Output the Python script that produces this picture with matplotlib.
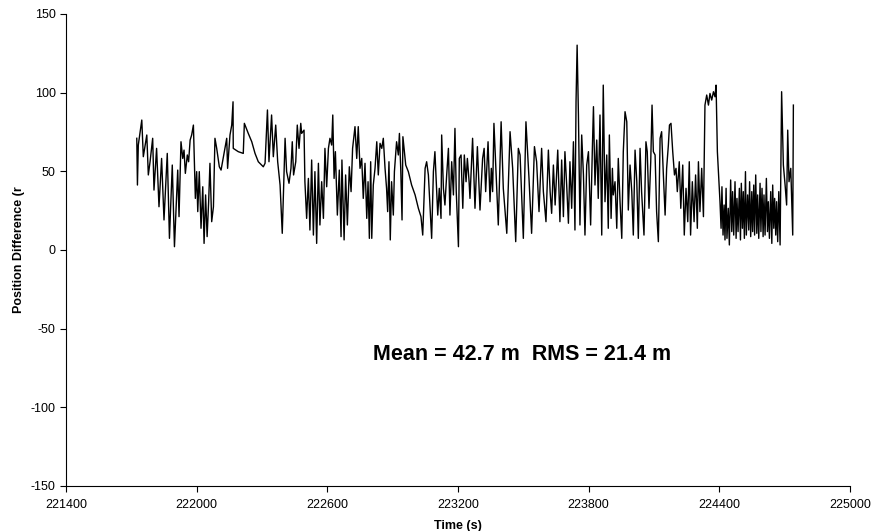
import matplotlib
matplotlib.use("Agg")
import matplotlib.pyplot as plt

plt.rcParams['font.family'] = ['Liberation Sans', 'DejaVu Sans']
plt.rcParams['axes.unicode_minus'] = False

# time (s) and position difference (m)
time_s = [
    221725, 221728, 221732, 221748, 221755, 221771, 221778, 221786, 221798, 221804,
    221816, 221827, 221839, 221850, 221865, 221875, 221888, 221898, 221913, 221919,
    221928, 221936, 221942, 221948, 221957, 221963, 221970, 221977, 221985, 221994,
    222000, 222005, 222012, 222020, 222028, 222034, 222041, 222048, 222055, 222061,
    222069, 222077, 222084, 222092, 222104,
    222112, 222127, 222138, 222142, 222153, 222161, 222167, 222168, 222191, 222214,
    222219, 222237, 222253, 222268, 222283, 222306, 222314, 222325, 222332, 222344,
    222352, 222363, 222372, 222383, 222393, 222406, 222413, 222424, 222433, 222439,
    222445, 222455, 222462, 222470, 222478,
    222482, 222493, 222497, 222505, 222513, 222520, 222528, 222536, 222543, 222551,
    222559, 222566, 222574, 222582, 222589, 222597, 222605, 222612, 222620, 222625,
    222631, 222637, 222646, 222655, 222663, 222667, 222677, 222684, 222692, 222701,
    222709, 222716, 222727, 222735, 222742, 222750, 222758, 222765, 222773, 222781,
    222787, 222793, 222799, 222804, 222811, 222819, 222827, 222834, 222842, 222850,
    222857, 222865,
    222872, 222877, 222883, 222889, 222895, 222903, 222908, 222918, 222926, 222931,
    222937, 222943, 222947, 222960, 222972, 222987, 223003, 223018, 223030, 223038,
    223049, 223056, 223064, 223071, 223079, 223087, 223094, 223102, 223107, 223114,
    223122, 223125, 223133, 223140, 223148, 223156, 223163, 223171, 223179, 223186,
    223192, 223202, 223206, 223214, 223222, 223229, 223237, 223243, 223251,
    223255, 223267, 223278, 223289, 223301, 223313, 223320, 223327, 223338, 223347,
    223353, 223359, 223365, 223375, 223385, 223398, 223408, 223424, 223439, 223451,
    223465, 223477, 223485, 223500, 223512, 223526, 223538, 223551, 223561, 223572,
    223584, 223592, 223604, 223615, 223623, 223630, 223638,
    223646, 223658, 223668, 223676, 223684, 223691, 223699, 223707, 223714, 223722,
    223730, 223737, 223742, 223747, 223753, 223760, 223768, 223776, 223783, 223791,
    223799, 223809, 223817, 223822, 223829, 223837, 223844, 223852, 223860, 223867,
    223875, 223883, 223890, 223895, 223903, 223909, 223913, 223921, 223929, 223936,
    223944, 223952, 223959, 223967, 223975, 223982, 223990, 223998, 224005, 224013,
    224021, 224028,
    224036, 224043, 224054, 224063, 224069, 224077, 224085, 224091, 224097, 224105,
    224112, 224120, 224128, 224135, 224143, 224151, 224158, 224166, 224171, 224178,
    224186, 224194, 224201, 224207, 224216, 224223, 224232, 224239, 224247, 224255,
    224262, 224268, 224276, 224284, 224291, 224299, 224304, 224311, 224319, 224327,
    224334, 224342, 224350, 224357, 224365, 224373, 224380, 224385, 224391, 224399,
    224403, 224408, 224412, 224417, 224422, 224426, 224431, 224435, 224441, 224446,
    224452, 224457, 224461, 224466, 224472, 224477, 224481, 224486, 224492, 224497,
    224501, 224506, 224510, 224515, 224520, 224524, 224530, 224535, 224539, 224544,
    224549, 224553, 224558, 224562, 224567, 224572, 224576, 224581, 224587, 224591,
    224596, 224601, 224605, 224610, 224616, 224621, 224625, 224630, 224636, 224641,
    224645, 224650, 224654, 224659, 224663, 224668, 224673, 224679, 224686, 224694,
    224702, 224709, 224714, 224720, 224728, 224737, 224740,
]

pos_diff_m = [
    71.0, 41.3, 66.7, 82.6, 59.3, 73.1, 47.7, 56.1, 71.0, 38.1,
    64.6, 27.5, 58.2, 19.1, 61.4, 7.4, 54.0, 2.1, 50.8, 21.2,
    68.8, 58.2, 63.5, 48.7, 60.4, 56.1, 69.9, 73.1, 79.4, 32.8,
    49.8, 24.4, 49.8, 13.8, 40.2, 4.2, 35.0, 8.5, 30.7, 55.1,
    18.0, 27.5, 71.0, 64.6, 52.9,
    50.8, 62.5, 71.0, 51.9, 73.1, 79.4, 94.2, 64.6, 62.5, 61.4,
    80.5, 74.1, 68.8, 61.4, 56.1, 52.9, 55.1, 89.0, 56.1, 85.8,
    59.3, 79.4, 56.1, 41.3, 10.6, 71.0, 49.8, 42.4, 51.9, 68.8,
    47.7, 56.1, 79.4, 64.6, 80.5,
    74.1, 76.2, 43.4, 20.1, 45.5, 12.7, 57.2, 9.5, 49.8, 4.2,
    55.1, 15.9, 43.4, 20.1, 64.6, 40.2, 64.6, 71.0, 66.7, 85.8,
    45.5, 62.5, 22.2, 50.8, 8.5, 57.2, 6.4, 47.7, 15.9, 52.9,
    37.1, 64.6, 78.4, 58.2, 78.4, 51.9, 58.2, 32.8, 55.1, 20.1,
    43.4, 7.4, 56.1, 7.4, 41.3, 51.9, 68.8, 47.7, 67.8, 64.6,
    71.0, 51.9,
    39.2, 24.4, 56.1, 6.4, 43.4, 22.2, 49.8, 68.8, 60.4, 74.1,
    51.9, 19.1, 72.0, 54.0, 49.8, 41.3, 35.0, 26.5, 21.2, 9.5,
    51.9, 56.1, 47.7, 28.6, 7.4, 49.8, 62.5, 37.1, 22.2, 39.2,
    20.1, 73.1, 39.2, 28.6, 47.7, 64.6, 22.2, 56.1, 35.0, 77.3,
    37.1, 2.1, 58.2, 60.4, 26.5, 60.4, 43.4, 58.2, 43.4,
    32.8, 71.0, 26.5, 65.7, 25.4, 58.2, 64.6, 37.1, 68.8, 30.7,
    51.9, 37.1, 80.5, 47.7, 15.9, 81.5, 39.2, 10.6, 75.2, 51.9,
    5.3, 64.6, 60.4, 7.4, 81.5, 45.5, 10.6, 65.7, 56.1, 24.4,
    64.6, 37.1, 18.0, 63.5, 37.1, 23.3, 54.0,
    28.6, 63.5, 18.0, 57.2, 21.2, 62.5, 41.3, 17.0, 56.1, 26.5,
    68.8, 12.7, 94.2, 130.2, 85.8, 15.9, 73.1, 47.7, 9.5, 54.0,
    62.5, 15.9, 64.6, 91.1, 41.3, 69.9, 32.8, 85.8, 9.5, 104.8,
    30.7, 60.4, 13.8, 73.1, 20.1, 51.9, 35.0, 43.4, 13.8, 58.2,
    30.7, 7.4, 62.5, 87.9, 81.5, 25.4, 54.0, 37.1, 9.5, 63.5,
    43.4, 7.4,
    64.6, 37.1, 9.5, 68.8, 62.5, 26.5, 56.1, 92.1, 62.5, 60.4,
    24.4, 5.3, 71.0, 75.2, 47.7, 22.2, 51.9, 66.7, 79.4, 80.5,
    62.5, 47.7, 51.9, 37.1, 56.1, 26.5, 54.0, 9.5, 39.2, 18.0,
    56.1, 9.5, 43.4, 18.0, 47.7, 13.8, 56.1, 24.4, 51.9, 21.2,
    92.1, 98.5, 92.1, 99.5, 95.3, 100.6, 97.4, 104.8, 62.5, 41.3,
    30.7, 13.8, 40.2, 9.5, 28.6, 6.4, 39.2, 7.4, 26.5, 3.2,
    44.5, 11.7, 37.1, 9.5, 43.4, 7.4, 32.8, 11.7, 39.2, 6.4,
    42.4, 13.8, 37.1, 7.4, 49.8, 9.5, 35.0, 12.7, 43.4, 8.5,
    37.1, 11.7, 41.3, 9.5, 47.7, 10.6, 35.0, 7.4, 42.4, 11.7,
    39.2, 8.5, 35.0, 9.5, 45.5, 11.7, 30.7, 7.4, 37.1, 4.2,
    41.3, 13.8, 32.8, 9.5, 30.7, 5.3, 37.1, 3.2, 100.6, 54.0,
    41.3, 28.6, 76.2, 43.4, 51.9, 9.5, 92.1,
]

x_ticks = [221400, 222000, 222600, 223200, 223800, 224400, 225000]
y_ticks = [-150, -100, -50, 0, 50, 100, 150]
stats_text = "Mean = 42.7 m  RMS = 21.4 m"

fig = plt.figure(figsize=(8.76, 5.31), dpi=100)
ax = fig.add_axes([66 / 876, 45 / 531, 784 / 876, 472 / 531])

ax.plot(time_s, pos_diff_m, color='black', linewidth=1.0)

ax.set_xlim(221400, 225000)
ax.set_ylim(-150, 150)
ax.set_xticks(x_ticks)
ax.set_yticks(y_ticks)
ax.tick_params(axis='both', labelsize=9, length=4, width=0.8, direction='out', colors='black')
ax.tick_params(axis='x', pad=5)

for side in ['top', 'right']:
    ax.spines[side].set_visible(False)
for side in ['left', 'bottom']:
    ax.spines[side].set_linewidth(0.8)

ax.set_xlabel("Time (s)", fontsize=9, fontweight='bold')
ax.xaxis.set_label_coords(0.5, -0.072)
ax.set_ylabel("Position Difference (r", fontsize=9, fontweight='bold')
ax.yaxis.set_label_coords(-0.052, 0.5)

ax.text(223494, -66.7, stats_text, fontsize=15.5, fontweight='bold',
        ha='center', va='center')

fig.savefig("out.png", dpi=100)
